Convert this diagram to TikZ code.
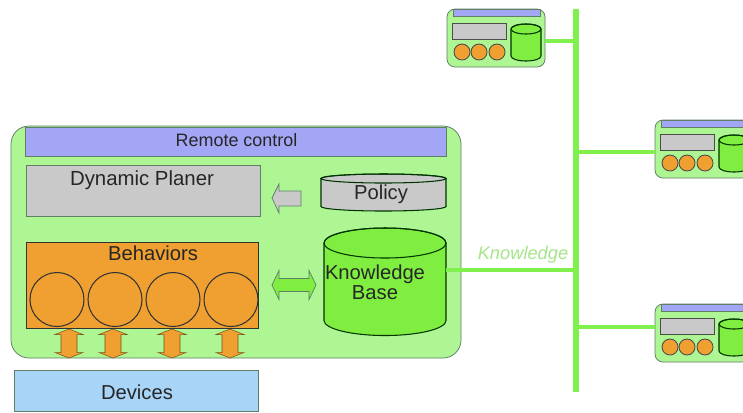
\documentclass[tikz,border=0pt]{standalone}
\usepackage{fontspec}
\setmainfont{Liberation Sans}
\usetikzlibrary{positioning,calc}
\definecolor{leaf}{HTML}{AEF594}
\definecolor{lilac}{HTML}{A3A6F5}
\definecolor{ash}{HTML}{C9C9C9}
\definecolor{amber}{HTML}{F0A030}
\definecolor{sky}{HTML}{A8D4F8}
\definecolor{lime}{HTML}{80EE40}
\definecolor{wire}{HTML}{80F04C}
\definecolor{edge}{HTML}{5F7F68}
\definecolor{faded}{HTML}{A6E58A}
\newcommand{\txt}[1]{\fontsize{#1}{#1}\selectfont}
\tikzset{
  block/.style={rectangle, draw=edge, line width=0.22pt, inner sep=0pt, text=black!85},
  caption/.style={text=black!85, inner sep=0pt},
  shell/.style={draw=black!80!green, line width=0.3pt},
  bus/.style={wire, line width=1.6pt},
  link/.style={wire, line width=1.4pt},
}
% drum: x, y of the top ellipse, body height, rx, ry, colour
\newcommand{\drum}[6]{
  \begin{scope}[shift={(#1,#2)}]
    \fill[#6, shell] (-#4,0) -- (-#4,-#3) arc (180:360:#4 and #5) -- (#4,0) arc (0:180:#4 and #5) -- cycle;
    \draw[shell] (0,0) ellipse (#4 and #5);
  \end{scope}
}
\newcommand{\updown}[1]{
  \begin{scope}[shift={(#1,-3.435)}]
    \fill[amber, draw=black!50!amber, line width=0.15pt] (0,0.145) -- (0.14,0.09) -- (0.08,0.09) -- (0.08,-0.09) -- (0.14,-0.09) -- (0,-0.145) -- (-0.14,-0.09) -- (-0.08,-0.09) -- (-0.08,0.09) -- (-0.14,0.09) -- cycle;
  \end{scope}
}
\newcommand{\minibox}[3]{
  \begin{scope}[shift={(#2,#3)}]
    \node[block, rounded corners=0.8mm, fill=leaf, minimum width=0.98cm, minimum height=0.58cm] (#1) at (0.49,-0.29) {};
    \fill[lilac, draw=edge, line width=0.15pt] (0.06,0) rectangle (0.93,-0.07);
    \fill[ash, draw=black!70, line width=0.25pt] (0.05,-0.14) rectangle (0.59,-0.30);
    \foreach \cx in {0.15,0.32,0.50}
      \fill[amber, draw=black!70, line width=0.25pt] (\cx,-0.43) circle (0.08);
    \drum{0.79}{-0.20}{0.27}{0.15}{0.05}{lime}
  \end{scope}
}

\begin{document}
\begin{tikzpicture}
  \clip (0,0) rectangle (7.43,-4.12);
  \fill[white] (0,0) rectangle (7.43,-4.12);

  % bus and its joints
  \coordinate (bustop) at (5.76,-0.09);
  \coordinate (busend) at (5.76,-3.92);
  \coordinate (j1) at (5.76,-0.41);
  \coordinate (j2) at (5.76,-1.52);
  \coordinate (j3) at (5.76,-3.27);
  \coordinate (j4) at (5.76,-2.70);
  \coordinate (kbase) at (4.46,-2.70);

  % main station
  \node[block, rounded corners=1.8mm, fill=leaf, minimum width=4.50cm, minimum height=2.32cm] (station) at (2.36,-2.42) {};
  \node[block, fill=lilac, minimum width=4.21cm, minimum height=0.29cm] (remote) at (2.355,-1.415) {};
  \node[caption, font=\txt{5.1}] (remotetxt) at (2.365,-1.405) {Remote control};
  \node[block, fill=ash, minimum width=2.34cm, minimum height=0.51cm] (planer) at (1.43,-1.905) {};
  \node[caption, font=\txt{5.8}] (planertxt) at (1.42,-1.80) {Dynamic Planer};

  \node[block, draw=black!80, fill=amber, minimum width=2.32cm, minimum height=0.86cm] (behaviors) at (1.42,-2.85) {};
  \node[caption, font=\txt{5.75}] (behtxt) at (1.53,-2.53) {Behaviors};
  \foreach \cx in {0.57,1.15,1.73,2.31}
    \draw[black!80, line width=0.3pt] (\cx,-2.995) circle (0.27);

  \foreach \ax in {0.69,1.13,1.72,2.30} {
    \updown{\ax}
  }

  \node[block, fill=sky, minimum width=2.44cm, minimum height=0.41cm] (devices) at (1.36,-3.905) {};
  \node[caption, font=\txt{5.75}] (devicestxt) at (1.37,-3.92) {Devices};

  % policy and knowledge drums
  \fill[ash, draw=edge, line width=0.2pt] (2.72,-1.98) -- (2.79,-1.84) -- (2.79,-1.91) -- (3.01,-1.91) -- (3.01,-2.06) -- (2.79,-2.06) -- (2.79,-2.13) -- cycle;
  \fill[lime, draw=edge, line width=0.2pt] (2.72,-2.85) -- (2.79,-2.705) -- (2.79,-2.785) -- (3.09,-2.785) -- (3.09,-2.705) -- (3.16,-2.85) -- (3.09,-2.995) -- (3.09,-2.915) -- (2.79,-2.915) -- (2.79,-2.995) -- cycle;

  \drum{3.835}{-1.785}{0.28}{0.625}{0.045}{ash}
  \node[caption, font=\txt{5.75}] (policytxt) at (3.81,-1.94) {Policy};
  \drum{3.85}{-2.43}{0.775}{0.61}{0.15}{lime}
  \node[caption, align=center, font=\txt{5.75}] (kbasetxt) at (3.75,-2.82) {Knowledge\\Base};

  % far stations
  \minibox{mfirst}{4.47}{-0.09}
  \minibox{msecond}{6.55}{-1.20}
  \minibox{mthird}{6.55}{-3.04}

  % connectors
  \draw[bus] (bustop) -- (busend);
  \draw[link] (kbase) -- (j4);
  \draw[link] (mfirst.east |- j1) -- (j1);
  \draw[link] (j2) -- (msecond.west |- j2);
  \draw[link] (j3) -- (mthird.west |- j3);
  \node[text=faded, inner sep=0pt, font=\txt{5.2}\itshape] (knowtxt) at (5.23,-2.55) {Knowledge};
\end{tikzpicture}
\end{document}
